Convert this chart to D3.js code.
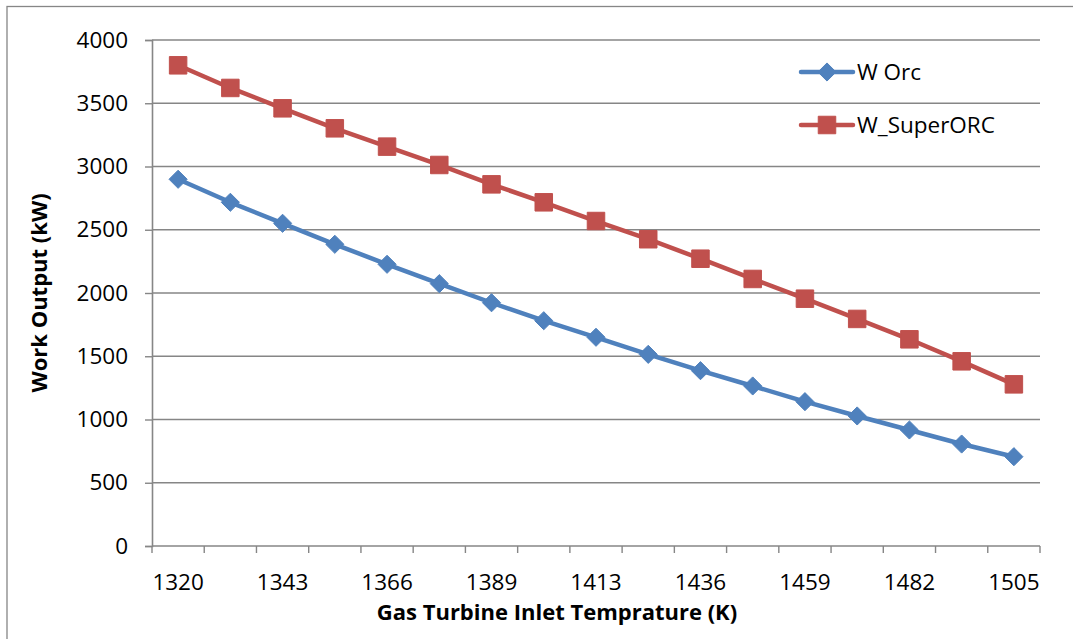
<!DOCTYPE html>
<html>
<head>
<meta charset="utf-8">
<script src="https://cdn.jsdelivr.net/npm/d3@7"></script>
<style>
  html, body { margin: 0; padding: 0; background: #fff; }
  svg { display: block; font-family: "Open Sans", "Liberation Sans", sans-serif; }
</style>
</head>
<body>
<svg id="chart" width="1073" height="639"></svg>
<script>
// ---- data ----
const categories = [1320, 1332, 1343, 1355, 1366, 1378, 1389, 1401, 1413, 1424, 1436, 1447, 1459, 1470, 1482, 1493, 1505];
const tickLabels = [1320, 1343, 1366, 1389, 1413, 1436, 1459, 1482, 1505];
const wOrc = [2899, 2717, 2551, 2385, 2227, 2074, 1923, 1781, 1650, 1515, 1386, 1265, 1141, 1028, 917, 806, 706];
const wSuperOrc = [3800, 3621, 3460, 3302, 3157, 3012, 2859, 2717, 2569, 2425, 2271, 2111, 1955, 1795, 1634, 1460, 1278];
const yTicks = [0, 500, 1000, 1500, 2000, 2500, 3000, 3500, 4000];
const seriesNames = ["W Orc", "W_SuperORC"];

// ---- layout ----
const svg = d3.select("#chart");
const W = 1073, H = 639;
const pLeft = 152, pRight = 1040, pTop = 40, pBottom = 546;
const gridColor = "#868686";
const blue = "#4F81BD", red = "#C0504D";

// outer border (top and left visible)
svg.append("rect").attr("x", 7).attr("y", 6.5).attr("width", W + 10).attr("height", H + 10)
  .attr("fill", "none").attr("stroke", gridColor).attr("stroke-width", 1.3);

const x = d3.scaleBand().domain(categories).range([pLeft, pRight]).padding(0);
const y = d3.scaleLinear().domain([0, 4000]).range([pBottom, pTop]);

// gridlines
svg.append("g").selectAll("line").data(yTicks.filter(d => d > 0)).join("line")
  .attr("x1", pLeft).attr("x2", pRight)
  .attr("y1", d => y(d)).attr("y2", d => y(d))
  .attr("stroke", gridColor).attr("stroke-width", 1.4);

// y axis
const yAxis = svg.append("g").attr("transform", `translate(${pLeft},0)`)
  .call(d3.axisLeft(y).tickValues(yTicks).tickSize(7).tickPadding(17).tickFormat(d3.format("d")));
yAxis.select(".domain").attr("stroke", gridColor).attr("stroke-width", 1.6);
yAxis.selectAll(".tick line").attr("stroke", gridColor).attr("stroke-width", 1.4);
yAxis.selectAll(".tick text").attr("font-size", 22.5).attr("fill", "#000")
  .attr("font-family", "\"Open Sans\", sans-serif");

// x axis: category boundaries as ticks
const xAxisG = svg.append("g");
xAxisG.append("line").attr("x1", pLeft).attr("x2", pRight).attr("y1", pBottom).attr("y2", pBottom)
  .attr("stroke", gridColor).attr("stroke-width", 1.6);
const boundaries = categories.map(c => x(c)).concat([x(categories[categories.length - 1]) + x.bandwidth()]);
xAxisG.selectAll("line.tk").data(boundaries).join("line").attr("class", "tk")
  .attr("x1", d => d).attr("x2", d => d).attr("y1", pBottom).attr("y2", pBottom + 7)
  .attr("stroke", gridColor).attr("stroke-width", 1.4);
xAxisG.selectAll("text").data(tickLabels).join("text")
  .attr("x", d => x(d) + x.bandwidth() / 2).attr("y", pBottom + 44)
  .attr("text-anchor", "middle").attr("font-size", 22.5).attr("fill", "#000")
  .text(d => d);

// axis titles
svg.append("text").attr("x", 557).attr("y", 620).attr("text-anchor", "middle")
  .attr("font-size", 22).attr("font-weight", "bold").attr("fill", "#000")
  .text("Gas Turbine Inlet Temprature (K)");
svg.append("text").attr("transform", "translate(47,293) rotate(-90)").attr("text-anchor", "middle")
  .attr("font-size", 22).attr("font-weight", "bold").attr("fill", "#000")
  .text("Work Output (kW)");

// lines and markers
const cx = c => x(c) + x.bandwidth() / 2;
const line = d3.line().x((d, i) => cx(categories[i])).y(d => y(d));

function drawSeries(vals, color, shape) {
  svg.append("path").datum(vals).attr("d", line).attr("fill", "none")
    .attr("stroke", color).attr("stroke-width", 4.5).attr("stroke-linejoin", "round").attr("stroke-linecap", "round");
  const sym = shape === "diamond"
    ? d3.symbol().type(d3.symbolDiamond2).size(210)
    : d3.symbol().type(d3.symbolSquare2).size(390);
  svg.append("g").selectAll("path").data(vals).join("path")
    .attr("transform", (d, i) => `translate(${cx(categories[i])},${y(d)})`)
    .attr("d", sym).attr("fill", color).attr("stroke", color).attr("stroke-width", 1);
}
drawSeries(wOrc, blue, "diamond");
drawSeries(wSuperOrc, red, "square");

// legend
const legend = [
  { name: seriesNames[0], color: blue, shape: "diamond", y: 72 },
  { name: seriesNames[1], color: red, shape: "square", y: 125 }
];
legend.forEach(l => {
  svg.append("line").attr("x1", 801).attr("x2", 853).attr("y1", l.y).attr("y2", l.y)
    .attr("stroke", l.color).attr("stroke-width", 4.5).attr("stroke-linecap", "round");
  const sym = l.shape === "diamond"
    ? d3.symbol().type(d3.symbolDiamond2).size(210)
    : d3.symbol().type(d3.symbolSquare2).size(390);
  svg.append("path").attr("transform", `translate(827,${l.y})`).attr("d", sym)
    .attr("fill", l.color).attr("stroke", l.color);
  svg.append("text").attr("x", 857).attr("y", l.y + 8).attr("font-size", 22.5).attr("fill", "#000")
    .text(l.name);
});
</script>
</body>
</html>
